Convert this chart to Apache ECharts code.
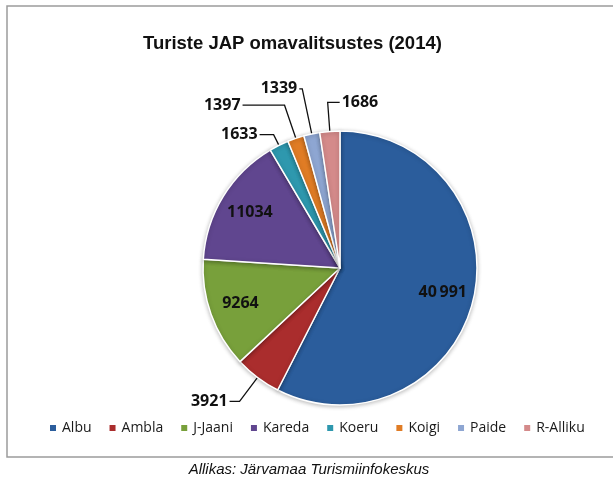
<!DOCTYPE html>
<html>
<head>
<meta charset="utf-8">
<title>Turiste JAP omavalitsustes (2014)</title>
<script src="https://cdn.jsdelivr.net/npm/echarts@6/dist/echarts.min.js"></script>
<style>
  html, body { margin: 0; padding: 0; background: #fff; }
  #chart { width: 613px; height: 477px; }
</style>
</head>
<body>
<div id="chart"></div>
<script>
// andmed
const categories = ['Albu', 'Ambla', 'J-Jaani', 'Kareda', 'Koeru', 'Koigi', 'Paide', 'R-Alliku']
const visitors = [40991, 3921, 9264, 11034, 1633, 1397, 1339, 1686]
const colors = ['#2b5d9c', '#aa2d2d', '#78a03b', '#60468f', '#2e98ae', '#e07c25', '#8ea6d2', '#d48a8a']
const insideNames = ['Albu', 'J-Jaani', 'Kareda']
const groupedNames = ['Albu']          // these labels are written with a thousands space
const flipRightNames = ['R-Alliku']    // leader turns to the right

// leader line lengths (radial, horizontal)
const leaders = {
  'Ambla': [30, 10],
  'Koeru': [12, 14],
  'Koigi': [35, 42],
  'Paide': [46, 3],
  'R-Alliku': [29, 12]
}

const center = [340, 268]
const radius = 137

function labelText(p) {
  if (groupedNames.includes(p.name)) {
    return String(p.value).replace(/\B(?=(\d{3})+(?!\d))/g, '\u2009')
  }
  return String(p.value)
}

const labelFont = {
  fontFamily: 'Open Sans',
  fontWeight: 'bold',
  fontSize: 16,
  color: '#111'
}

const outerData = categories.map((name, i) => {
  const item = { name: name, value: visitors[i], itemStyle: { color: colors[i] } }
  if (insideNames.includes(name)) {
    item.label = { show: false }
    item.labelLine = { show: false }
  } else {
    const l = leaders[name] || [15, 10]
    item.labelLine = { length: l[0], length2: l[1] }
  }
  return item
})

const innerData = categories.map((name, i) => ({
  name: name,
  value: visitors[i],
  label: { show: insideNames.includes(name) }
}))

const chart = echarts.init(document.getElementById('chart'))
chart.setOption({
  backgroundColor: '#fff',
  animation: false,
  title: {
    text: 'Turiste JAP omavalitsustes (2014)',
    left: 143,
    top: 34,
    padding: 0,
    textStyle: {
      fontFamily: 'Liberation Sans',
      fontWeight: 'bold',
      fontSize: 18.5,
      color: '#111'
    }
  },
  legend: {
    data: categories,
    left: 48,
    top: 421,
    padding: 0,
    itemWidth: 8,
    itemHeight: 8,
    itemGap: 16,
    icon: 'rect',
    selectedMode: false,
    textStyle: { fontFamily: 'Open Sans', fontSize: 14, color: '#1a1a1a' }
  },
  graphic: [
    {
      type: 'rect',
      z: -10,
      shape: { x: 7, y: 6, width: 640, height: 451 },
      style: { fill: 'none', stroke: '#9c9c9c', lineWidth: 1.5 }
    },
    {
      type: 'text',
      x: 309,
      y: 470,
      style: {
        text: 'Allikas: Järvamaa Turismiinfokeskus',
        fontFamily: 'Liberation Sans',
        fontStyle: 'italic',
        fontSize: 15,
        fill: '#111',
        align: 'center',
        verticalAlign: 'middle'
      }
    }
  ],
  series: [
    {
      name: 'Turiste',
      type: 'pie',
      center: center,
      radius: radius,
      startAngle: 90,
      clockwise: true,
      avoidLabelOverlap: false,
      itemStyle: {
        borderColor: '#fff',
        borderWidth: 1.5,
        shadowBlur: 4,
        shadowOffsetY: 1,
        shadowColor: 'rgba(0,0,0,0.25)'
      },
      label: {
        show: true,
        position: 'outside',
        distanceToLabelLine: 2,
        formatter: labelText,
        ...labelFont
      },
      labelLine: {
        show: true,
        minTurnAngle: 60,
        maxSurfaceAngle: 180,
        lineStyle: { color: '#111', width: 1.3 }
      },
      labelLayout: function (p) {
        if (!flipRightNames.includes(categories[p.dataIndex]) || !p.labelLinePoints) return {}
        const pts = p.labelLinePoints
        const end = [2 * pts[1][0] - pts[2][0], pts[2][1]]
        return { x: end[0] + 2, align: 'left', labelLinePoints: [pts[0], pts[1], end] }
      },
      emphasis: { disabled: true },
      data: outerData
    },
    {
      // transparent ring that only carries the inside labels
      name: 'Turiste sildid',
      type: 'pie',
      center: center,
      radius: [radius / 2, radius],
      startAngle: 90,
      clockwise: true,
      silent: true,
      legendHoverLink: false,
      itemStyle: { color: 'rgba(0,0,0,0)', borderWidth: 0 },
      label: {
        position: 'inside',
        formatter: labelText,
        ...labelFont
      },
      labelLine: { show: false },
      emphasis: { disabled: true },
      data: innerData
    }
  ]
})

window.addEventListener('resize', () => chart.resize())
</script>
</body>
</html>
